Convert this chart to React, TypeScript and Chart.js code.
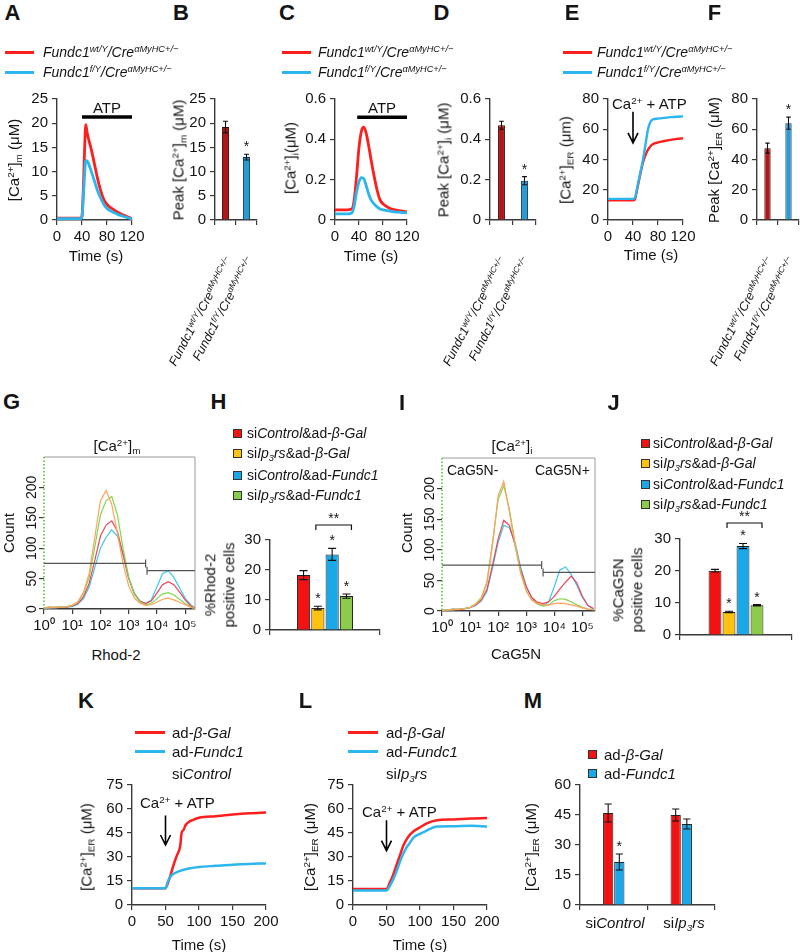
import React, { useEffect, useRef } from 'react';
import { Chart, registerables } from 'chart.js';

Chart.register(...registerables);

const FONT = '"Liberation Sans", Arial, Helvetica, sans-serif';
Chart.defaults.font.family = FONT;

const RED = '#FF1E1E';
const BLUE = '#2BB6EE';
const DARK_RED = '#B01818';
const DARK_BLUE = '#2A9AD4';
const BAR_RED = '#F21212';
const BAR_ORANGE = '#FFC20E';
const BAR_BLUE = '#1BA8E8';
const BAR_GREEN = '#8DCB4B';
const H_RED = '#EF4458';
const H_ORANGE = '#FFA35C';
const H_BLUE = '#3CC8F2';
const H_GREEN = '#7FD855';
const AX = '#3a3a3a';
const TXT = '#141414';

// ---------- data ----------
// A: mitochondrial Ca2+
const TIME_A = [0, 10, 20, 30, 38, 40, 42, 44, 46, 48, 50, 55, 60, 65, 70, 75, 80, 90, 100, 110, 120];
const A_WT = [0.4, 0.4, 0.4, 0.4, 0.4, 0.8, 6, 14, 19.7, 18.2, 17, 14.5, 11.5, 8.5, 6, 4.2, 3.2, 2.2, 1.4, 0.8, 0.3];
const A_KO = [0.3, 0.3, 0.3, 0.3, 0.3, 0.7, 4.5, 9, 12.3, 12.2, 11.8, 10, 8, 6, 4.5, 3.2, 2.4, 1.6, 1.0, 0.6, 0.2];
// B
const GENOTYPES = ['Fundc1 wt/Y', 'Fundc1 f/Y'];
const B_PEAK = [19.2, 13.0];
const B_ERR = [1.2, 0.6];
// C: cytosolic Ca2+
const TIME_C = [0, 10, 20, 28, 32, 36, 40, 44, 48, 52, 56, 60, 65, 70, 75, 80, 90, 100, 110, 120];
const C_WT = [0.05, 0.05, 0.05, 0.055, 0.1, 0.22, 0.36, 0.44, 0.46, 0.43, 0.37, 0.3, 0.22, 0.15, 0.1, 0.08, 0.06, 0.05, 0.045, 0.04];
const C_KO = [0.03, 0.03, 0.03, 0.035, 0.07, 0.14, 0.19, 0.21, 0.205, 0.17, 0.13, 0.1, 0.08, 0.065, 0.055, 0.05, 0.045, 0.04, 0.038, 0.035];
// D
const D_PEAK = [0.47, 0.195];
const D_ERR = [0.02, 0.02];
// E: ER Ca2+
const TIME_E = [0, 10, 20, 30, 40, 43, 46, 50, 56, 60, 64, 68, 72, 80, 90, 100, 110, 120];
const E_WT = [13, 13, 13, 13, 13, 13.5, 19, 27, 38, 43, 46.5, 48.8, 50.2, 51.3, 52.2, 53, 53.6, 54];
const E_KO = [14, 14, 14, 14, 14, 14.5, 20, 28, 40, 50, 60, 65, 66.5, 67, 67.5, 68, 68.3, 68.5];
// F
const F_PEAK = [47.5, 64];
const F_ERR = [3.3, 4];
// G / I histograms (x = log10 fluorescence)
const HX = [0, 0.2, 0.4, 0.6, 0.8, 1.0, 1.2, 1.4, 1.6, 1.8, 2.0, 2.2, 2.4, 2.6, 2.8, 3.0, 3.2, 3.4, 3.6, 3.8, 4.0, 4.2, 4.4, 4.6, 4.8, 5.0, 5.2, 5.4];
const G_RED = [2, 3, 2, 4, 3, 5, 9, 20, 42, 80, 120, 138, 145, 128, 90, 50, 25, 13, 9, 13, 26, 40, 45, 40, 28, 15, 5, 0];
const G_ORANGE = [2, 2, 3, 3, 4, 6, 12, 28, 58, 118, 178, 195, 172, 125, 75, 38, 18, 10, 6, 7, 11, 16, 18, 15, 11, 7, 3, 0];
const G_BLUE = [1, 2, 2, 3, 3, 4, 8, 17, 36, 68, 100, 118, 130, 120, 90, 52, 26, 13, 9, 15, 36, 58, 63, 52, 35, 18, 7, 0];
const G_GREEN = [2, 3, 3, 4, 4, 6, 11, 25, 52, 102, 155, 178, 185, 155, 100, 52, 24, 12, 7, 9, 17, 25, 27, 23, 16, 9, 3, 0];
const I_RED = [0, 2, 3, 2, 4, 6, 10, 18, 35, 75, 118, 148, 140, 108, 68, 40, 22, 14, 12, 15, 24, 36, 47, 57, 46, 24, 9, 4];
const I_ORANGE = [1, 2, 2, 3, 4, 6, 11, 20, 45, 108, 188, 212, 162, 108, 62, 33, 18, 12, 10, 10, 12, 13, 12, 10, 8, 5, 3, 2];
const I_BLUE = [1, 1, 2, 3, 4, 5, 9, 16, 32, 70, 112, 140, 136, 112, 72, 40, 21, 12, 9, 15, 40, 67, 72, 60, 42, 22, 9, 3];
const I_GREEN = [1, 2, 3, 3, 4, 6, 12, 22, 48, 112, 182, 205, 166, 112, 64, 33, 18, 11, 8, 10, 17, 20, 19, 15, 10, 6, 3, 2];
const LOG_TICKS = ['10\u2070', '10\u00B9', '10\u00B2', '10\u00B3', '10\u2074', '10\u2075'];
// H / J
const H_VALUES = [18.3, 7.3, 25.2, 11.3];
const H_ERRS = [1.5, 0.6, 2.0, 0.7];
const J_VALUES = [20.1, 7.2, 27.8, 9.3];
const J_ERRS = [0.4, 0.2, 0.8, 0.2];
// K / L
const TIME_K = [0, 25, 50, 53, 57, 62, 67, 72, 74, 77, 80, 85, 90, 100, 125, 150, 175, 200];
const K_BGAL = [10.5, 10.5, 10.5, 13, 18, 25, 31, 37, 45, 47, 50, 52, 53, 54.5, 55.5, 56.5, 57.3, 57.8];
const K_FUNDC1 = [10.5, 10.5, 10.5, 14, 17.5, 19.5, 20.5, 21.3, 21.6, 22, 22.4, 22.8, 23.2, 23.8, 24.5, 25.2, 25.7, 26];
const TIME_L = [0, 25, 50, 55, 60, 65, 70, 75, 80, 85, 90, 100, 110, 125, 150, 175, 200];
const L_BGAL = [10, 10, 10, 14, 19, 25, 31, 37, 41, 44, 46, 48.5, 51, 53, 53.5, 54, 54.3];
const L_FUNDC1 = [9, 9, 9, 12, 16, 21, 27, 32, 36, 39, 42, 44.5, 46.5, 49, 49.2, 49.5, 49];
// M
const M_GROUPS = ['siControl', 'siIp3rs'];
const M_BGAL = [46, 45];
const M_BGAL_ERR = [4.5, 3];
const M_FUNDC1 = [21.5, 40.5];
const M_FUNDC1_ERR = [4, 2.5];

// ---------- chart helpers ----------
const YW = 50, XH = 36, PT = 40, PR = 26;
const TICK_FONT = { family: FONT, size: 15 };

function yLin(min: number, max: number, step: number, extra: any = {}) {
  return {
    type: 'linear', position: 'left', min, max,
    ticks: { stepSize: step, font: TICK_FONT, color: TXT, padding: 4, includeBounds: false, ...(extra.ticks || {}) },
    grid: { drawOnChartArea: false, drawTicks: true, tickLength: 5, color: AX, tickColor: AX, lineWidth: 1.2 },
    border: { display: true, color: AX, width: 1.4, ...(extra.border || {}) },
    afterFit: (s: any) => { s.width = YW; },
    afterBuildTicks: extra.afterBuildTicks,
  };
}
function xLin(min: number, max: number, step: number, extra: any = {}) {
  return {
    type: 'linear', position: 'bottom', min, max,
    ticks: { stepSize: step, font: TICK_FONT, color: TXT, padding: 3, includeBounds: false, maxRotation: 0, minRotation: 0, autoSkip: false, ...(extra.ticks || {}) },
    grid: { drawOnChartArea: false, drawTicks: true, tickLength: 5, color: AX, tickColor: AX, lineWidth: 1.2 },
    border: { display: true, color: AX, width: 1.4 },
    afterFit: (s: any) => { s.height = XH; },
  };
}
function xCat() {
  return {
    type: 'category', position: 'bottom', offset: true,
    ticks: { display: false },
    grid: { offset: true, drawOnChartArea: false, drawTicks: true, tickLength: 5, color: AX, tickColor: AX, lineWidth: 1.2 },
    border: { display: true, color: AX, width: 1.4 },
    afterFit: (s: any) => { s.height = XH; },
  };
}
function baseOptions(x: any, y: any) {
  return {
    responsive: false, animation: false, devicePixelRatio: 1, events: [],
    layout: { padding: { top: PT, right: PR, left: 0, bottom: 0 } },
    plugins: { legend: { display: false }, tooltip: { enabled: false }, title: { display: false } },
    scales: { x, y },
  };
}
const pts = (xs: number[], ys: number[]) => xs.map((x, i) => ({ x, y: ys[i] }));
function lineDs(xs: number[], ys: number[], color: string, order: number, width = 2.6, smooth = true) {
  return {
    data: pts(xs, ys), borderColor: color, backgroundColor: color, borderWidth: width,
    pointRadius: 0, order, fill: false, tension: 0,
    cubicInterpolationMode: smooth ? 'monotone' : 'default',
  };
}
const drawPlugin = (fn: (c: any, ctx: CanvasRenderingContext2D, xs: any, ys: any) => void) => ({
  id: 'annot',
  afterDatasetsDraw(chart: any) {
    const ctx = chart.ctx;
    ctx.save();
    fn(chart, ctx, chart.scales.x, chart.scales.y);
    ctx.restore();
  },
});
const errPlugin = {
  id: 'errbars',
  afterDatasetsDraw(chart: any) {
    const ctx = chart.ctx; const ys = chart.scales.y;
    ctx.save();
    chart.data.datasets.forEach((ds: any, di: number) => {
      const meta = chart.getDatasetMeta(di);
      meta.data.forEach((el: any, i: number) => {
        const v = ds.data[i]; const e = ds.errors ? ds.errors[i] : 0;
        const x = el.x;
        const yt = ys.getPixelForValue(v + e), yb = ys.getPixelForValue(v - e);
        if (e) {
          const hw = Math.min(el.width * 0.35, 4);
          ctx.strokeStyle = '#111'; ctx.lineWidth = 1.1;
          ctx.beginPath();
          ctx.moveTo(x, yt); ctx.lineTo(x, yb);
          ctx.moveTo(x - hw, yt); ctx.lineTo(x + hw, yt);
          ctx.moveTo(x - hw, yb); ctx.lineTo(x + hw, yb);
          ctx.stroke();
        }
        const s = ds.stars ? ds.stars[i] : '';
        if (s) {
          ctx.fillStyle = TXT; ctx.font = `14px ${FONT}`; ctx.textAlign = 'center'; ctx.textBaseline = 'alphabetic';
          ctx.fillText(s, x, yt - 3);
        }
      });
    });
    ctx.restore();
  },
};
function atpBar(x0: number, x1: number, yv: number) {
  return drawPlugin((c, ctx, xs, ys) => {
    const y = ys.getPixelForValue(yv);
    const a = xs.getPixelForValue(x0), b = xs.getPixelForValue(x1);
    ctx.strokeStyle = '#000'; ctx.lineWidth = 3.5;
    ctx.beginPath(); ctx.moveTo(a, y); ctx.lineTo(b, y); ctx.stroke();
    ctx.fillStyle = TXT; ctx.font = `15px ${FONT}`; ctx.textAlign = 'center'; ctx.textBaseline = 'alphabetic';
    ctx.fillText('ATP', (a + b) / 2, y - 4);
  });
}
function arrow(xv: number, y0: number, y1: number) {
  return drawPlugin((c, ctx, xs, ys) => {
    const x = xs.getPixelForValue(xv);
    const a = ys.getPixelForValue(y0), b = ys.getPixelForValue(y1);
    ctx.strokeStyle = '#000'; ctx.lineWidth = 1.6;
    ctx.beginPath(); ctx.moveTo(x, a); ctx.lineTo(x, b);
    ctx.moveTo(x - 5, b - 10); ctx.lineTo(x, b); ctx.lineTo(x + 5, b - 10);
    ctx.stroke();
  });
}
function bracket(yv: number, label: string) {
  return drawPlugin((c, ctx, xs, ys) => {
    const m1 = c.getDatasetMeta(1).data[0], m3 = c.getDatasetMeta(3).data[0];
    const a = m1.x - 2, b = m3.x + 5;
    const y = ys.getPixelForValue(yv);
    ctx.strokeStyle = '#111'; ctx.lineWidth = 1.2;
    ctx.beginPath(); ctx.moveTo(a, y + 5); ctx.lineTo(a, y); ctx.lineTo(b, y); ctx.lineTo(b, y + 5); ctx.stroke();
    ctx.fillStyle = TXT; ctx.font = `14px ${FONT}`; ctx.textAlign = 'center'; ctx.textBaseline = 'alphabetic';
    ctx.fillText(label, (a + b) / 2, y - 2);
  });
}
function histDecor(gates: [number, number, number][], right: ('L' | 'R')[]) {
  return drawPlugin((c, ctx, xs, ys) => {
    const ca = c.chartArea;
    ctx.strokeStyle = '#9a9a9a'; ctx.lineWidth = 1;
    ctx.beginPath(); ctx.moveTo(ca.left, ca.top); ctx.lineTo(ca.right, ca.top); ctx.lineTo(ca.right, ca.bottom); ctx.stroke();
    ctx.strokeStyle = '#5BC236'; ctx.lineWidth = 1.6; ctx.setLineDash([1.5, 2]);
    ctx.beginPath(); ctx.moveTo(ca.left, ca.top); ctx.lineTo(ca.left, ca.bottom); ctx.stroke();
    ctx.setLineDash([]);
    ctx.strokeStyle = '#555'; ctx.lineWidth = 1.2;
    gates.forEach(([x0, x1, yv], i) => {
      const a = xs.getPixelForValue(x0), b = xs.getPixelForValue(x1), y = ys.getPixelForValue(yv);
      ctx.beginPath(); ctx.moveTo(a, y); ctx.lineTo(b, y);
      const t = right[i] === 'R' ? b : a;
      ctx.moveTo(t, y - 4); ctx.lineTo(t, y + 4);
      ctx.stroke();
    });
    ctx.fillStyle = TXT; ctx.font = `14px ${FONT}`; ctx.textAlign = 'center'; ctx.textBaseline = 'middle';
    ys.ticks.forEach((t: any) => {
      const y = ys.getPixelForValue(t.value);
      ctx.save(); ctx.translate(ca.left - 12, y); ctx.rotate(-Math.PI / 2);
      ctx.fillText(String(t.value), 0, 0); ctx.restore();
    });
  });
}

type Plot = { l: number; t: number; r: number; b: number };

function ChartPanel({ plot, make }: { plot: Plot; make: () => any }) {
  const ref = useRef<HTMLCanvasElement>(null);
  useEffect(() => {
    const chart = new Chart(ref.current as HTMLCanvasElement, make());
    return () => chart.destroy();
  }, []);
  const w = plot.r - plot.l + YW + PR;
  const h = plot.b - plot.t + PT + XH;
  return (
    <canvas ref={ref} width={w} height={h}
      style={{ position: 'absolute', left: plot.l - YW, top: plot.t - PT, width: w, height: h }} />
  );
}

const histY = () => yLin(0, 250, 50, {
  ticks: { display: false }, border: { display: false },
  afterBuildTicks: (s: any) => { s.ticks = s.ticks.filter((t: any) => t.value <= 200); },
});
const histX = (max: number) => xLin(0, max, 1, { ticks: { callback: (v: any) => (Number.isInteger(v) ? LOG_TICKS[v] : '') } });

const PANELS: { plot: Plot; make: () => any }[] = [
  { // A
    plot: { l: 57, t: 99, r: 132, b: 220 },
    make: () => ({
      type: 'line',
      data: { datasets: [lineDs(TIME_A, A_WT, RED, 1, 2.8), lineDs(TIME_A, A_KO, BLUE, 0, 2.8)] },
      options: baseOptions(xLin(0, 120, 40), yLin(0, 25, 5)),
      plugins: [atpBar(40, 120, 21.3)],
    }),
  },
  { // B
    plot: { l: 215, t: 99, r: 257, b: 220 },
    make: () => ({
      type: 'bar',
      data: { labels: GENOTYPES, datasets: [{ data: B_PEAK, errors: B_ERR, stars: ['', '*'], backgroundColor: [DARK_RED, DARK_BLUE], borderColor: ['#3a0a0a', '#0d3a5a'], borderWidth: 1, categoryPercentage: 0.34, barPercentage: 1 }] },
      options: baseOptions(xCat(), yLin(0, 25, 5)),
      plugins: [errPlugin],
    }),
  },
  { // C
    plot: { l: 335, t: 99, r: 407, b: 220 },
    make: () => ({
      type: 'line',
      data: { datasets: [lineDs(TIME_C, C_WT, RED, 1, 2.8), lineDs(TIME_C, C_KO, BLUE, 0, 2.8)] },
      options: baseOptions(xLin(0, 120, 40), yLin(0, 0.6, 0.2)),
      plugins: [atpBar(37, 120, 0.51)],
    }),
  },
  { // D
    plot: { l: 490, t: 99, r: 536, b: 220 },
    make: () => ({
      type: 'bar',
      data: { labels: GENOTYPES, datasets: [{ data: D_PEAK, errors: D_ERR, stars: ['', '*'], backgroundColor: [DARK_RED, DARK_BLUE], borderColor: ['#3a0a0a', '#0d3a5a'], borderWidth: 1, categoryPercentage: 0.3, barPercentage: 1 }] },
      options: baseOptions(xCat(), yLin(0, 0.6, 0.2)),
      plugins: [errPlugin],
    }),
  },
  { // E
    plot: { l: 608, t: 99, r: 683, b: 220 },
    make: () => ({
      type: 'line',
      data: { datasets: [lineDs(TIME_E, E_WT, RED, 1, 2.4), lineDs(TIME_E, E_KO, BLUE, 0, 2.4)] },
      options: baseOptions(xLin(0, 120, 40), yLin(0, 80, 20)),
      plugins: [arrow(40, 71.5, 51)],
    }),
  },
  { // F
    plot: { l: 757, t: 99, r: 799, b: 220 },
    make: () => ({
      type: 'bar',
      data: { labels: GENOTYPES, datasets: [{ data: F_PEAK, errors: F_ERR, stars: ['', '*'], backgroundColor: [DARK_RED, DARK_BLUE], borderColor: ['#3a0a0a', '#0d3a5a'], borderWidth: 1, categoryPercentage: 0.3, barPercentage: 1 }] },
      options: baseOptions(xCat(), yLin(0, 80, 20)),
      plugins: [errPlugin],
    }),
  },
  { // G
    plot: { l: 44, t: 457, r: 195, b: 609 },
    make: () => ({
      type: 'line',
      data: { datasets: [
        lineDs(HX, G_BLUE, H_BLUE, 3, 1.2, false), lineDs(HX, G_RED, H_RED, 2, 1.2, false),
        lineDs(HX, G_GREEN, H_GREEN, 1, 1.2, false), lineDs(HX, G_ORANGE, H_ORANGE, 0, 1.2, false),
      ] },
      options: baseOptions(histX(5.35), histY()),
      plugins: [histDecor([[0, 3.6, 75], [3.65, 5.35, 63]], ['R', 'L'])],
    }),
  },
  { // H
    plot: { l: 270, t: 540, r: 380, b: 630 },
    make: () => ({
      type: 'bar',
      data: { labels: [''], datasets: [
        { data: [H_VALUES[0]], errors: [H_ERRS[0]], stars: [''], backgroundColor: BAR_RED },
        { data: [H_VALUES[1]], errors: [H_ERRS[1]], stars: ['*'], backgroundColor: BAR_ORANGE },
        { data: [H_VALUES[2]], errors: [H_ERRS[2]], stars: ['*'], backgroundColor: BAR_BLUE },
        { data: [H_VALUES[3]], errors: [H_ERRS[3]], stars: ['*'], backgroundColor: BAR_GREEN },
      ].map((d) => ({ ...d, borderColor: '#222', borderWidth: 1, categoryPercentage: 0.52, barPercentage: 0.92 })) },
      options: baseOptions(xCat(), yLin(0, 30, 10)),
      plugins: [errPlugin, bracket(35, '**')],
    }),
  },
  { // I
    plot: { l: 442, t: 458, r: 595, b: 611 },
    make: () => ({
      type: 'line',
      data: { datasets: [
        lineDs(HX, I_BLUE, H_BLUE, 3, 1.2, false), lineDs(HX, I_RED, H_RED, 2, 1.2, false),
        lineDs(HX, I_GREEN, H_GREEN, 1, 1.2, false), lineDs(HX, I_ORANGE, H_ORANGE, 0, 1.2, false),
      ] },
      options: baseOptions(histX(5.45), histY()),
      plugins: [histDecor([[0, 3.55, 75], [3.6, 5.45, 63]], ['R', 'L'])],
    }),
  },
  { // J
    plot: { l: 680, t: 539, r: 792, b: 635 },
    make: () => ({
      type: 'bar',
      data: { labels: [''], datasets: [
        { data: [J_VALUES[0]], errors: [J_ERRS[0]], stars: [''], backgroundColor: BAR_RED },
        { data: [J_VALUES[1]], errors: [J_ERRS[1]], stars: ['*'], backgroundColor: BAR_ORANGE },
        { data: [J_VALUES[2]], errors: [J_ERRS[2]], stars: ['*'], backgroundColor: BAR_BLUE },
        { data: [J_VALUES[3]], errors: [J_ERRS[3]], stars: ['*'], backgroundColor: BAR_GREEN },
      ].map((d) => ({ ...d, borderColor: '#222', borderWidth: 1, categoryPercentage: 0.5, barPercentage: 0.92 })) },
      options: baseOptions(xCat(), yLin(0, 30, 10)),
      plugins: [errPlugin, bracket(35, '**')],
    }),
  },
  { // K
    plot: { l: 132, t: 785, r: 266, b: 905 },
    make: () => ({
      type: 'line',
      data: { datasets: [lineDs(TIME_K, K_BGAL, RED, 1, 2.5), lineDs(TIME_K, K_FUNDC1, BLUE, 0, 2.5)] },
      options: baseOptions(xLin(0, 200, 50), yLin(0, 75, 15)),
      plugins: [arrow(50, 56, 37.5)],
    }),
  },
  { // L
    plot: { l: 353, t: 785, r: 487, b: 905 },
    make: () => ({
      type: 'line',
      data: { datasets: [lineDs(TIME_L, L_BGAL, RED, 1, 2.5), lineDs(TIME_L, L_FUNDC1, BLUE, 0, 2.5)] },
      options: baseOptions(xLin(0, 200, 50), yLin(0, 75, 15)),
      plugins: [arrow(50, 53, 34)],
    }),
  },
  { // M
    plot: { l: 580, t: 785, r: 715, b: 905 },
    make: () => ({
      type: 'bar',
      data: { labels: M_GROUPS, datasets: [
        { data: M_BGAL, errors: M_BGAL_ERR, stars: ['', ''], backgroundColor: BAR_RED },
        { data: M_FUNDC1, errors: M_FUNDC1_ERR, stars: ['*', ''], backgroundColor: BAR_BLUE },
      ].map((d) => ({ ...d, borderColor: '#222', borderWidth: 1, categoryPercentage: 0.33, barPercentage: 0.92 })) },
      options: baseOptions(xCat(), yLin(0, 60, 15)),
      plugins: [errPlugin],
    }),
  },
];

// ---------- text helpers ----------
const Sup = ({ children }: any) => <span style={{ fontSize: '0.66em', position: 'relative', top: '-0.5em' }}>{children}</span>;
const Sub = ({ children }: any) => <span style={{ fontSize: '0.66em', position: 'relative', top: '0.3em' }}>{children}</span>;

function T({ x, y, size = 15, align = 'left', rot = 0, bold = false, italic = false, lh = 1, children }: any) {
  const tx = align === 'left' ? '0' : align === 'center' ? '-50%' : '-100%';
  return (
    <div style={{
      position: 'absolute', left: x, top: y, fontFamily: FONT, fontSize: size, fontWeight: bold ? 700 : 400,
      fontStyle: italic ? 'italic' : 'normal', lineHeight: lh, whiteSpace: 'nowrap', color: TXT, textAlign: 'center',
      transform: `translate(${tx}, -50%)${rot ? ` rotate(${rot}deg)` : ''}`,
    }}>{children}</div>
  );
}
function Slant({ x, y, children }: any) {
  return (
    <div style={{ position: 'absolute', left: x, top: y, width: 0, height: 0 }}>
      <div style={{
        position: 'absolute', right: 0, top: -8, height: 16, lineHeight: '16px', whiteSpace: 'nowrap',
        fontFamily: FONT, fontSize: 12.5, fontStyle: 'italic', color: TXT,
        transformOrigin: 'right center', transform: 'rotate(-62deg)',
      }}>{children}</div>
    </div>
  );
}
const HLine = ({ x0, x1, y, color }: any) => (
  <div style={{ position: 'absolute', left: x0, top: y - 1.5, width: x1 - x0, height: 3, background: color }} />
);
const Sq = ({ x, y, color }: any) => (
  <div style={{ position: 'absolute', left: x, top: y - 4, width: 7, height: 7, background: color, border: '1px solid #333' }} />
);

const WT = () => <i>Fundc1<Sup>wt/Y</Sup>/Cre<Sup>{'\u03B1MyHC+/\u2212'}</Sup></i>;
const KO = () => <i>Fundc1<Sup>f/Y</Sup>/Cre<Sup>{'\u03B1MyHC+/\u2212'}</Sup></i>;
const Ca = () => <>[Ca<Sup>2+</Sup>]</>;
const Ip3 = () => <i>Ip<Sub>3</Sub>rs</i>;

function GenoLegend({ lx, tx }: any) {
  return (
    <>
      <HLine x0={lx} x1={lx + 29} y={52} color={RED} />
      <HLine x0={lx} x1={lx + 29} y={72} color={BLUE} />
      <T x={tx} y={52} size={14}><WT /></T>
      <T x={tx} y={72} size={14}><KO /></T>
    </>
  );
}
function GroupLegend({ sx, tx, ys }: any) {
  const items = [
    [BAR_RED, <>si<i>Control</i>&amp;ad-<i>{'\u03B2-Gal'}</i></>],
    [BAR_ORANGE, <>si<Ip3 />&amp;ad-<i>{'\u03B2-Gal'}</i></>],
    [BAR_BLUE, <>si<i>Control</i>&amp;ad-<i>Fundc1</i></>],
    [BAR_GREEN, <>si<Ip3 />&amp;ad-<i>Fundc1</i></>],
  ];
  return (
    <>
      {items.map(([c, label]: any, i: number) => (
        <React.Fragment key={i}>
          <Sq x={sx} y={ys[i]} color={c} />
          <T x={tx} y={ys[i]} size={14}>{label}</T>
        </React.Fragment>
      ))}
    </>
  );
}

export default function App() {
  return (
    <div style={{ position: 'absolute', left: 0, top: 0, width: 800, height: 952, overflow: 'hidden', background: '#fff' }}>
      {PANELS.map((p, i) => <ChartPanel key={i} plot={p.plot} make={p.make} />)}

      {/* panel letters */}
      {[['A', 12.5, 12.5], ['B', 181, 12.5], ['C', 287, 12.5], ['D', 441.5, 12.5], ['E', 572, 12.5], ['F', 714.5, 12.5],
        ['G', 11.5, 401.5], ['H', 218.5, 401.5], ['I', 402, 403], ['J', 613.5, 403],
        ['K', 86, 701], ['L', 305.5, 701], ['M', 533, 701]].map(([l, x, y]: any) => (
        <T key={l} x={x} y={y} size={22} bold align="center">{l}</T>
      ))}

      {/* row 1 legends */}
      <GenoLegend lx={5} tx={43} />
      <GenoLegend lx={282} tx={318} />
      <GenoLegend lx={563} tx={597} />

      {/* row 1 axis titles */}
      <T x={13} y={160} rot={-90} align="center"><Ca /><Sub>m</Sub> (μM)</T>
      <T x={178} y={160} rot={-90} align="center">Peak <Ca /><Sub>m</Sub> (μM)</T>
      <T x={290} y={158} rot={-90} align="center"><Ca /><Sub>i</Sub>(μM)</T>
      <T x={443} y={160} rot={-90} align="center">Peak <Ca /><Sub>i</Sub> (μM)</T>
      <T x={565} y={160} rot={-90} align="center"><Ca /><Sub>ER</Sub> (μm)</T>
      <T x={713} y={160} rot={-90} align="center">Peak <Ca /><Sub>ER</Sub> (μM)</T>
      <T x={96} y={255} align="center">Time (s)</T>
      <T x={371} y={255} align="center">Time (s)</T>
      <T x={651} y={254} align="center">Time (s)</T>
      <T x={612} y={103}>Ca<Sup>2+</Sup> + ATP</T>

      {/* row 1 slanted category labels */}
      <Slant x={229} y={258}><WT /></Slant>
      <Slant x={250} y={258}><KO /></Slant>
      <Slant x={503} y={258}><WT /></Slant>
      <Slant x={526} y={258}><KO /></Slant>
      <Slant x={770} y={258}><WT /></Slant>
      <Slant x={791} y={258}><KO /></Slant>

      {/* row 2 */}
      <T x={117} y={445} align="center"><Ca /><Sub>m</Sub></T>
      <T x={512} y={445} align="center"><Ca /><Sub>i</Sub></T>
      <T x={8} y={533} rot={-90} align="center">Count</T>
      <T x={406} y={533} rot={-90} align="center">Count</T>
      <T x={116} y={654} align="center">Rhod-2</T>
      <T x={516} y={653} align="center">CaG5N</T>
      <T x={447} y={470} size={14}>CaG5N-</T>
      <T x={535} y={470} size={14}>CaG5N+</T>
      <GroupLegend sx={233} tx={247} ys={[433, 453, 475, 495]} />
      <GroupLegend sx={641} tx={653} ys={[443, 463, 484, 504]} />
      <T x={220} y={585} rot={-90} align="center" lh={1.25}>%Rhod-2<br />positive cells</T>
      <T x={628} y={590} rot={-90} align="center" lh={1.25}>%CaG5N<br />positive cells</T>

      {/* row 3 */}
      <HLine x0={135} x1={165} y={732} color={RED} />
      <HLine x0={135} x1={165} y={751} color={BLUE} />
      <T x={172} y={732}>ad-<i>{'\u03B2-Gal'}</i></T>
      <T x={172} y={751}>ad-<i>Fundc1</i></T>
      <T x={172} y={773}>si<i>Control</i></T>
      <HLine x0={348} x1={378} y={732} color={RED} />
      <HLine x0={348} x1={378} y={751} color={BLUE} />
      <T x={386} y={732}>ad-<i>{'\u03B2-Gal'}</i></T>
      <T x={386} y={751}>ad-<i>Fundc1</i></T>
      <T x={386} y={773}>si<Ip3 /></T>
      <T x={86} y={847} rot={-90} align="center"><Ca /><Sub>ER</Sub> (μM)</T>
      <T x={309} y={847} rot={-90} align="center"><Ca /><Sub>ER</Sub> (μM)</T>
      <T x={530} y={847} rot={-90} align="center"><Ca /><Sub>ER</Sub> (μM)</T>
      <T x={199} y={944} align="center">Time (s)</T>
      <T x={420} y={944} align="center">Time (s)</T>
      <T x={140} y={802}>Ca<Sup>2+</Sup> + ATP</T>
      <T x={362} y={811}>Ca<Sup>2+</Sup> + ATP</T>
      <Sq x={588} y={754} color={BAR_RED} />
      <Sq x={588} y={773} color={BAR_BLUE} />
      <T x={604} y={754}>ad-<i>{'\u03B2-Gal'}</i></T>
      <T x={604} y={773}>ad-<i>Fundc1</i></T>
      <T x={615} y={922} align="center">si<i>Control</i></T>
      <T x={684} y={922} align="center">si<Ip3 /></T>
    </div>
  );
}
